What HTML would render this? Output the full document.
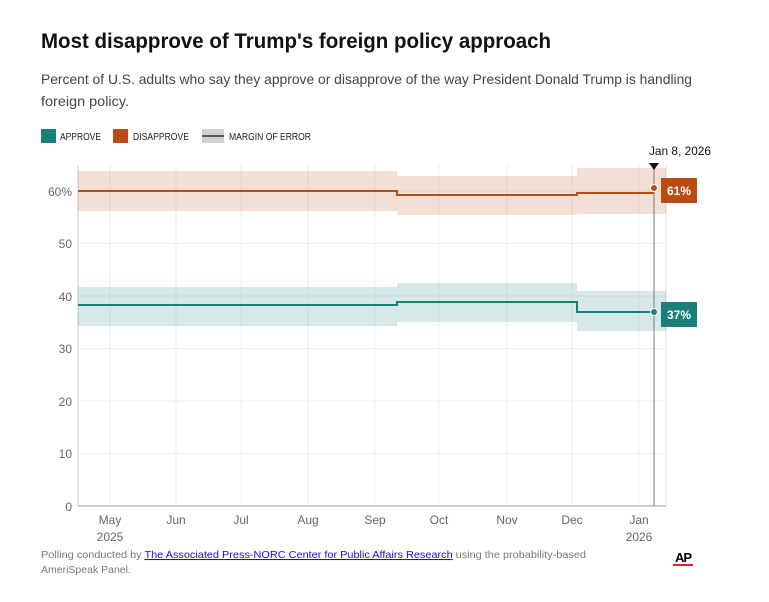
<!DOCTYPE html>
<html><head><style>
body{margin:0;background:#fff;width:769px;height:597px;overflow:hidden;font-family:"Liberation Sans",sans-serif;}
</style></head><body>
<svg width="769" height="597" xmlns="http://www.w3.org/2000/svg" font-family="Liberation Sans, sans-serif">
<text x="41" y="48" font-size="21" font-weight="bold" fill="#111" textLength="510" lengthAdjust="spacingAndGlyphs">Most disapprove of Trump's foreign policy approach</text>
<text x="41" y="84" font-size="14" fill="#444" textLength="651" lengthAdjust="spacingAndGlyphs">Percent of U.S. adults who say they approve or disapprove of the way President Donald Trump is handling</text>
<text x="41" y="106" font-size="14" fill="#444" textLength="88" lengthAdjust="spacingAndGlyphs">foreign policy.</text>
<rect x="41" y="129" width="15" height="14" fill="#1a7f7a"/>
<text x="60" y="140" font-size="10" fill="#222" textLength="41" lengthAdjust="spacingAndGlyphs">APPROVE</text>
<rect x="113" y="129" width="15" height="14" fill="#b84c14"/>
<text x="133" y="140" font-size="10" fill="#222" textLength="56" lengthAdjust="spacingAndGlyphs">DISAPPROVE</text>
<rect x="202" y="129" width="22" height="14" fill="#d0d0d0"/>
<line x1="202" y1="136" x2="224" y2="136" stroke="#111" stroke-width="1.2"/>
<text x="229" y="140" font-size="10" fill="#222" textLength="82" lengthAdjust="spacingAndGlyphs">MARGIN OF ERROR</text>
<g stroke="#eee" stroke-width="1">
<line x1="78" y1="453.5" x2="666" y2="453.5"/><line x1="78" y1="401" x2="666" y2="401"/>
<line x1="78" y1="348.5" x2="666" y2="348.5"/><line x1="78" y1="296" x2="666" y2="296"/>
<line x1="78" y1="243.5" x2="666" y2="243.5"/><line x1="78" y1="191" x2="666" y2="191"/>
<line x1="110" y1="165" x2="110" y2="506"/><line x1="176" y1="165" x2="176" y2="506"/>
<line x1="241" y1="165" x2="241" y2="506"/><line x1="308" y1="165" x2="308" y2="506"/>
<line x1="375" y1="165" x2="375" y2="506"/><line x1="439" y1="165" x2="439" y2="506"/>
<line x1="507" y1="165" x2="507" y2="506"/><line x1="572" y1="165" x2="572" y2="506"/>
<line x1="639" y1="165" x2="639" y2="506"/>
</g>
<line x1="78" y1="165" x2="78" y2="506" stroke="#ccc"/>
<line x1="666" y1="165" x2="666" y2="506" stroke="#ddd"/>
<line x1="78" y1="506" x2="666" y2="506" stroke="#999"/>
<g fill="#b84c14" fill-opacity="0.18">
<rect x="78" y="171" width="319" height="40"/>
<rect x="397" y="176" width="180" height="39"/>
<rect x="577" y="168" width="89" height="46"/>
</g>
<g fill="#1a7f7a" fill-opacity="0.18">
<rect x="78" y="287" width="319" height="39"/>
<rect x="397" y="283" width="180" height="39"/>
<rect x="577" y="291" width="89" height="40"/>
</g>
<polyline points="78,191 397,191 397,195 577,195 577,193 654,193" fill="none" stroke="#b84c14" stroke-width="2"/>
<polyline points="78,305 397,305 397,302 577,302 577,312 654,312" fill="none" stroke="#1a7f7a" stroke-width="2"/>
<line x1="654" y1="163" x2="654" y2="506" stroke="#777" stroke-width="1"/>
<polygon points="649,163 659,163 654,170" fill="#111"/>
<text x="680" y="155" font-size="12" text-anchor="middle" fill="#111" textLength="62" lengthAdjust="spacingAndGlyphs">Jan 8, 2026</text>
<circle cx="654" cy="188" r="3.5" fill="#b84c14" stroke="#fff"/>
<circle cx="654" cy="312" r="3.5" fill="#1a7f7a" stroke="#fff"/>
<rect x="661" y="178" width="36" height="25" fill="#b84c14"/>
<text x="679" y="195" font-size="12" font-weight="bold" fill="#fff" text-anchor="middle">61%</text>
<rect x="661" y="302" width="36" height="25" fill="#1a7f7a"/>
<text x="679" y="319" font-size="12" font-weight="bold" fill="#fff" text-anchor="middle">37%</text>
<g font-size="12" fill="#666" text-anchor="end">
<text x="72" y="196">60%</text><text x="72" y="248">50</text><text x="72" y="301">40</text>
<text x="72" y="353">30</text><text x="72" y="406">20</text><text x="72" y="458">10</text><text x="72" y="511">0</text>
</g>
<g font-size="12" fill="#666" text-anchor="middle">
<text x="110" y="524">May</text><text x="110" y="541">2025</text>
<text x="176" y="524">Jun</text><text x="241" y="524">Jul</text><text x="308" y="524">Aug</text>
<text x="375" y="524">Sep</text><text x="439" y="524">Oct</text><text x="507" y="524">Nov</text>
<text x="572" y="524">Dec</text><text x="639" y="524">Jan</text><text x="639" y="541">2026</text>
</g>
<text x="41" y="558" font-size="10.5" fill="#777" textLength="545" lengthAdjust="spacingAndGlyphs">Polling conducted by <tspan fill="#1a0dcc" text-decoration="underline">The Associated Press-NORC Center for Public Affairs Research</tspan> using the probability-based</text>
<text x="41" y="573" font-size="10.5" fill="#777">AmeriSpeak Panel.</text>
<text x="683" y="562" font-size="13" font-weight="bold" fill="#000" text-anchor="middle" letter-spacing="-1">AP</text>
<rect x="673" y="564" width="20" height="2" fill="#e22"/>
</svg>
</body></html>
